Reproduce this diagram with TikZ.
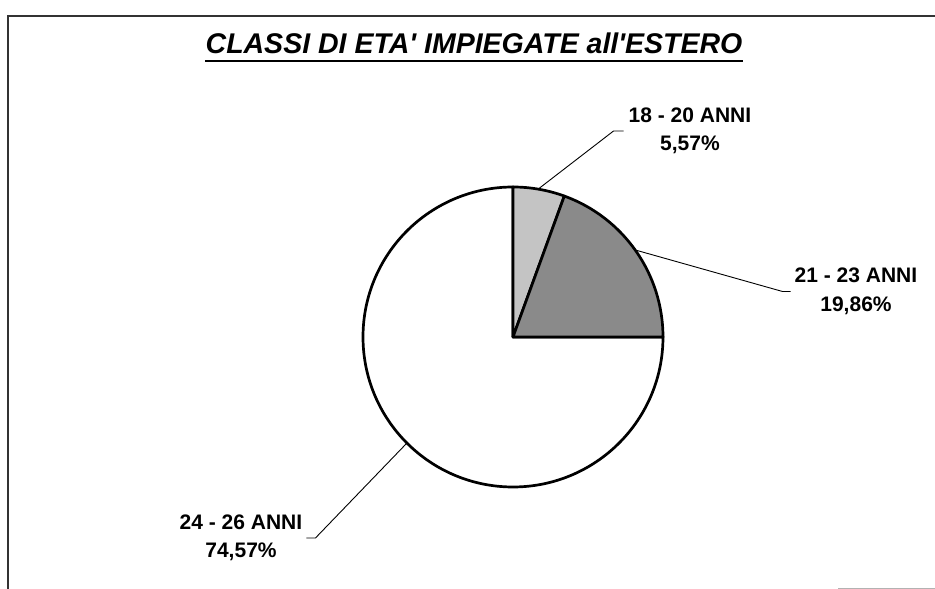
\documentclass[tikz,border=0pt]{standalone}
\usepackage{fontspec}
\setmainfont{Liberation Sans}
\begin{document}
\begin{tikzpicture}[x=1pt,y=1pt,
  slice/.style={draw=black, line width=2.7pt, line join=round},
  leader/.style={draw=black, line width=0.9pt},
  lab/.style={font=\fontsize{21}{28.5}\selectfont\bfseries, align=center, inner sep=0pt},
  lightgray/.style={fill={rgb,255:red,196;green,196;blue,196}},
  darkgray/.style={fill={rgb,255:red,138;green,138;blue,138}}
]
\useasboundingbox (0,0) rectangle (935,589);
\fill[white] (0,0) rectangle (935,589);
% frame
\draw[line width=1.3pt, black!80] (8,0) -- (8,573) -- (935,573);
\draw[line width=1pt, black!30] (838,0.6) -- (935,0.6);
% title
\node[font=\fontsize{28.5}{30}\selectfont\bfseries\itshape, inner sep=0pt] (title) at (474,546) {CLASSI DI ETA\textquotesingle{} IMPIEGATE all\textquotesingle ESTERO};
\draw[line width=2.6pt] ([yshift=-8pt]title.base west) -- ([yshift=-8pt]title.base east);
% pie
\coordinate (c) at (513,252);
\draw[slice, fill=white] (c) -- ++(0:150) arc[start angle=0, end angle=-270, radius=150] -- cycle;
\draw[slice, lightgray] (c) -- ++(90:150) arc[start angle=90, end angle=70, radius=150] -- cycle;
\draw[slice, darkgray] (c) -- ++(70:150) arc[start angle=70, end angle=0, radius=150] -- cycle;
\path (c) ++(80:151) coordinate (m1);
\path (c) ++(35:151) coordinate (m2);
\path (c) ++(-135:151) coordinate (m3);
% labels
\node[lab] (l1) at (690,458) {18 - 20 ANNI\\5,57\%};
\node[lab] (l2) at (856,297.5) {21 - 23 ANNI\\19,86\%};
\node[lab] (l3) at (241,51) {24 - 26 ANNI\\74,57\%};
% leaders
\draw[leader] ([xshift=-5pt]l1.west) -- ++(-10,0) -- (m1);
\draw[leader] ([xshift=-4pt]l2.west) -- ++(-8,0) -- (m2);
\draw[leader] ([xshift=4pt]l3.east) -- ++(9,0) -- (m3);
\end{tikzpicture}
\end{document}
